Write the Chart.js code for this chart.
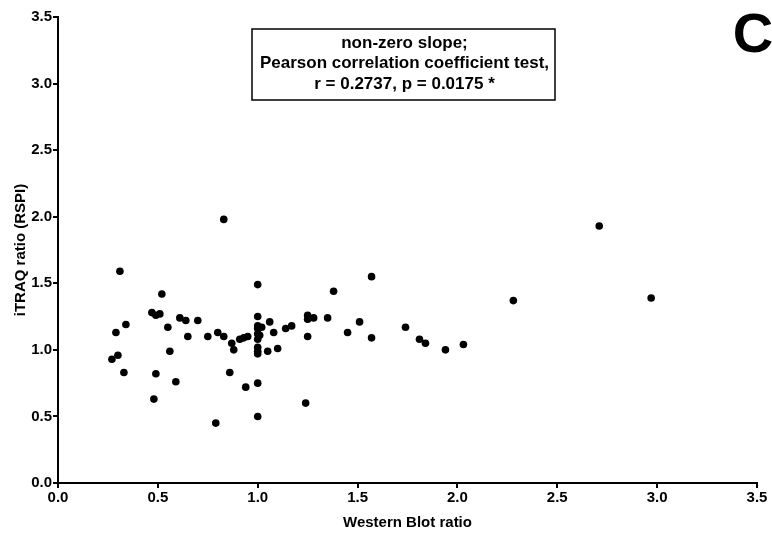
<!DOCTYPE html>
<html>
<head>
<meta charset="utf-8">
<script src="https://cdn.jsdelivr.net/npm/chart.js@4.4.0/dist/chart.umd.min.js"></script>
<style>
html,body{margin:0;padding:0;background:#fff;}
#wrap{width:772px;height:533px;position:relative;}
</style>
</head>
<body>
<div id="wrap"><canvas id="c" width="772" height="533"></canvas></div>
<script>
// Western Blot ratio (x) vs iTRAQ ratio (y)
const westernBlot = [0.83,0.31,0.52,0.47,0.49,0.51,0.34,0.29,0.55,0.61,0.64,0.70,0.65,0.75,0.80,0.83,0.87,0.88,0.91,0.93,0.95,0.56,0.30,0.27,0.33,0.49,0.59,0.86,0.94,0.48,0.79,
  1.00,1.00,1.00,1.00,1.00,1.01,1.00,1.00,1.00,1.00,1.00,1.00,1.02,1.06,1.08,1.05,1.10,1.14,1.17,1.25,1.25,1.28,1.25,1.24,1.35,1.38,1.51,1.45,1.57,1.57,1.74,1.81,1.84,1.94,2.03,2.28,2.71,2.97];
const itraq = [1.98,1.59,1.42,1.28,1.26,1.27,1.19,1.13,1.17,1.24,1.22,1.22,1.10,1.10,1.13,1.10,1.05,1.00,1.08,1.09,1.10,0.99,0.96,0.93,0.83,0.82,0.76,0.83,0.72,0.63,0.45,
  1.49,1.25,1.18,1.16,1.12,1.11,1.08,1.02,0.99,0.97,0.75,0.50,1.17,1.21,1.13,0.99,1.01,1.16,1.18,1.26,1.23,1.24,1.10,0.60,1.24,1.44,1.21,1.13,1.09,1.55,1.17,1.08,1.05,1.00,1.04,1.37,1.93,1.39];
const xTicks = [0,0.5,1.0,1.5,2.0,2.5,3.0,3.5];
const yTicks = [0,0.5,1.0,1.5,2.0,2.5,3.0,3.5];
const xTitle = 'Western Blot ratio';
const yTitle = 'iTRAQ ratio (RSPI)';
const noteLines = ['non-zero slope;','Pearson correlation coefficient test,','r = 0.2737, p = 0.0175 *'];
const panelLetter = 'C';

const points = westernBlot.map((x,i)=>({x:x,y:itraq[i]}));
const FONT = 'Liberation Sans, Arial, sans-serif';

const notePlugin = {
  id:'note',
  afterDraw(chart){
    const ctx = chart.ctx;
    ctx.save();
    // annotation box
    const bx=252, by=29, bw=303, bh=71;
    ctx.fillStyle='#fff';
    ctx.fillRect(bx,by,bw,bh);
    ctx.strokeStyle='#000';
    ctx.lineWidth=1.5;
    ctx.strokeRect(bx,by,bw,bh);
    ctx.fillStyle='#000';
    ctx.font='bold 17px '+FONT;
    ctx.textAlign='center';
    ctx.textBaseline='middle';
    const cx = bx+bw/2+1;
    noteLines.forEach((t,i)=>ctx.fillText(t,cx,43+i*20.5));
    // panel letter
    ctx.font='bold 56px '+FONT;
    ctx.textAlign='center';
    ctx.textBaseline='alphabetic';
    ctx.fillText(panelLetter,753,52);
    ctx.restore();
  }
};

new Chart(document.getElementById('c'),{
  type:'scatter',
  data:{datasets:[{data:points,backgroundColor:'#000',borderColor:'#000',pointRadius:3.8,pointHoverRadius:3.8,borderWidth:0}]},
  options:{
    responsive:false,animation:false,
    layout:{padding:{top:17,right:15,left:0,bottom:0}},
    plugins:{legend:{display:false},tooltip:{enabled:false}},
    scales:{
      x:{type:'linear',min:0,max:3.5,
        afterBuildTicks(s){s.ticks=xTicks.map(v=>({value:v}));},
        afterFit(s){s.height=50;},
        ticks:{color:'#000',font:{family:FONT,size:15,weight:'bold'},padding:1,callback:v=>v.toFixed(1),maxRotation:0},
        grid:{display:true,drawOnChartArea:false,drawTicks:true,tickLength:5,color:'#000',lineWidth:2},
        border:{display:true,color:'#000',width:2},
        title:{display:true,text:xTitle,color:'#000',font:{family:FONT,size:15,weight:'bold'},padding:{top:0,bottom:1}}
      },
      y:{type:'linear',min:0,max:3.5,
        afterBuildTicks(s){s.ticks=yTicks.map(v=>({value:v}));},
        afterFit(s){s.width=58;},
        ticks:{color:'#000',font:{family:FONT,size:15,weight:'bold'},padding:1,callback:v=>v.toFixed(1)},
        grid:{display:true,drawOnChartArea:false,drawTicks:true,tickLength:5,color:'#000',lineWidth:2},
        border:{display:true,color:'#000',width:2},
        title:{display:true,text:yTitle,color:'#000',font:{family:FONT,size:15,weight:'bold'},padding:{top:12,bottom:0}}
      }
    }
  },
  plugins:[notePlugin]
});
</script>
</body>
</html>
